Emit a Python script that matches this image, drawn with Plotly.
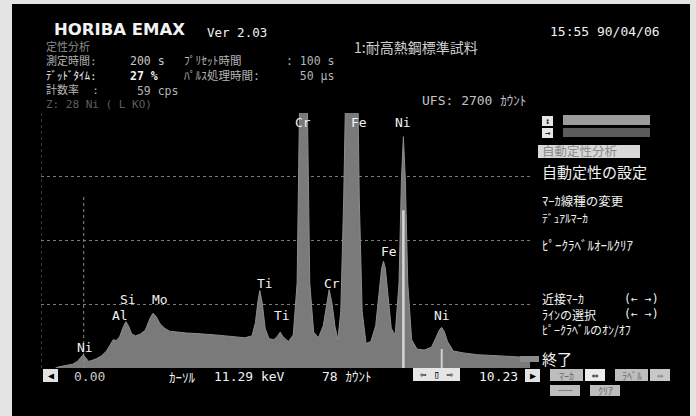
import plotly.graph_objects as go

# ---- spectrum data: energy (keV) and counts per channel ----
energy_kev = [0.30, 0.35, 0.45, 0.55, 0.65, 0.75, 0.82, 0.87, 0.92, 0.98,
              1.05, 1.15, 1.25, 1.35, 1.42, 1.49, 1.55, 1.62, 1.70, 1.75,
              1.80, 1.87, 1.95, 2.05, 2.15, 2.25, 2.31, 2.38, 2.45, 2.55,
              2.65, 2.80, 3.00, 3.20, 3.40, 3.60, 3.80, 4.00, 4.20, 4.35,
              4.42, 4.47, 4.51, 4.56, 4.62, 4.70, 4.80, 4.88, 4.93, 4.99,
              5.10, 5.20, 5.28, 5.33, 5.37, 5.41, 5.45, 5.49, 5.54, 5.62,
              5.72, 5.82, 5.88, 5.94, 6.00, 6.06, 6.12, 6.18, 6.24, 6.30,
              6.35, 6.40, 6.45, 6.50, 6.56, 6.62, 6.70, 6.80, 6.90, 6.97,
              7.02, 7.06, 7.10, 7.15, 7.22, 7.30, 7.38, 7.43, 7.47, 7.51,
              7.56, 7.64, 7.75, 7.90, 8.05, 8.15, 8.22, 8.26, 8.31, 8.38,
              8.50, 8.70, 9.00, 9.40, 9.80, 10.08]
counts = [0, 10, 20, 30, 40, 70, 110, 140, 110, 70,
          80, 100, 130, 180, 240, 300, 290, 330, 440, 490,
          450, 360, 340, 360, 400, 530, 580, 540, 470, 420,
          390, 380, 370, 365, 360, 350, 340, 330, 320, 340,
          480, 700, 820, 690, 420, 310, 300, 340, 380, 330,
          280, 350, 900, 2800, 4500, 5200, 4500, 2800, 900, 380,
          320, 450, 660, 830, 680, 440, 300, 600, 1800, 4200,
          5800, 6300, 5800, 4200, 1800, 600, 260, 280, 450, 800,
          1050, 1130, 1050, 780, 420, 350, 900, 2000, 2450, 2000,
          900, 300, 200, 190, 220, 330, 410, 430, 390, 280,
          180, 160, 140, 130, 120, 110]

# peak identification labels: element, energy (keV), label height (counts)
label_names = ["Ni", "Al", "Si", "Mo", "Ti", "Ti", "Cr", "Cr", "Fe", "Fe", "Ni", "Ni"]
label_kev = [0.90, 1.62, 1.80, 2.45, 4.62, 4.97, 5.41, 5.99, 6.55, 7.18, 7.47, 8.26]
label_counts = [220, 560, 730, 730, 900, 560, 2600, 900, 2600, 1230, 2600, 560]

full_scale = 2700          # UFS counts
grid_counts = [675, 1350, 2025, 2700]
kev_max = 10.08
marker_kev = 7.47          # active marker (Ni Ka)
marker_top = 1670
marker2_kev = 8.26

# plot-area pixel box
W, H = 696, 416
L, R, T, B = 41, 530, 113, 368


def px(x):
    return (x - L) / (R - L)


def py(y):
    return (B - y) / (B - T)


MONO = "DejaVu Sans Mono, Noto Sans CJK JP"
CJK = "Noto Sans CJK JP, DejaVu Sans Mono"
WHITE = "#f2f2f2"
GREY = "#b4b4b4"
NB = "\u00a0"

fig = go.Figure()
fig.add_trace(go.Scatter(
    x=energy_kev, y=counts, mode="lines", fill="tozeroy",
    line=dict(color="#8e8e8e", width=1), fillcolor="#7a7a7a",
    hoverinfo="skip", showlegend=False))

shapes = []
# CRT screen
shapes.append(dict(type="rect", xref="paper", yref="paper", layer="below",
                   x0=px(12), x1=px(690), y0=py(420), y1=py(4),
                   fillcolor="#000000", line=dict(width=0)))
# vertical dotted guides
shapes.append(dict(type="line", xref="x", yref="paper", x0=0, x1=0,
                   y0=0, y1=1, line=dict(color="#6a6a6a", width=1, dash="dot")))
shapes.append(dict(type="line", xref="x", yref="y", x0=0.88, x1=0.88,
                   y0=0, y1=1830, line=dict(color="#8a8a8a", width=1, dash="dot")))
# markers
shapes.append(dict(type="line", xref="x", yref="y", x0=marker_kev, x1=marker_kev,
                   y0=0, y1=marker_top, line=dict(color="#d6d6d6", width=2.5)))
shapes.append(dict(type="line", xref="x", yref="paper", x0=marker2_kev, x1=marker2_kev,
                   y0=py(380), y1=py(349), line=dict(color="#cfcfcf", width=2)))


def box(x0, x1, y0, y1, color):
    shapes.append(dict(type="rect", xref="paper", yref="paper",
                       x0=px(x0), x1=px(x1), y0=py(y1), y1=py(y0),
                       fillcolor=color, line=dict(width=0)))


# menu bars and buttons
box(542, 553, 116, 126, "#e6e6e6")
box(563, 650, 115, 125, "#9c9c9c")
box(542, 553, 128, 138, "#e6e6e6")
box(563, 650, 128, 137, "#5c5c5c")
box(538, 640, 145, 158, "#d8d8d8")
box(520, 539, 356, 362, "#8c8c8c")
box(43, 58, 369, 382, "#e2e2e2")
box(413, 460, 368, 381, "#e6e6e6")
box(525, 540, 369, 382, "#e2e2e2")
box(550, 583, 369, 381, "#bdbdbd")
box(585, 605, 369, 381, "#ececec")
box(615, 648, 369, 381, "#bdbdbd")
box(650, 670, 369, 381, "#c8c8c8")
box(550, 580, 385, 396, "#bdbdbd")
box(590, 620, 385, 396, "#bdbdbd")

ann = []


def text(x, y, s, size=13, color=WHITE, family=MONO, anchor="left", bold=False,
         align="left"):
    if bold:
        s = "<b>" + s + "</b>"
    ann.append(dict(x=px(x), y=py(y), xref="paper", yref="paper", text=s,
                    showarrow=False, xanchor=anchor, yanchor="middle", align=align,
                    font=dict(size=size, color=color, family=family)))


def col(c, s):
    return "<span style='color:%s'>%s</span>" % (c, s)


# header
text(52, 29, "HORIBA EMAX", 16.5, WHITE, "DejaVu Sans", bold=True)
text(205, 32, "Ver 2.03", 12.5)
text(548, 31, "15:55 90/04/06", 13)
text(352, 47, "1:耐高熱鋼標準試料", 14, "#cfcfcf", CJK)

# acquisition conditions block (label column, values, second column)
text(44, 75.6, "<br>".join([
    col("#8c8c8c", "定性分析"),
    col(GREY, "測定時間:"),
    col(WHITE, "ﾃﾞｯﾄﾞﾀｲﾑ:"),
    col(GREY, "計数率" + NB + NB + ":"),
    col("#5e5e5e", "Z: 28 Ni ( L KO)"),
]), 11, WHITE, MONO)
text(128, 75.5, "<br>".join([
    col("#c8c8c8", "200 s"),
    col(WHITE, "<b>27 %</b>"),
    col(GREY, NB + "59 cps"),
]), 11.5, WHITE, MONO)
text(182, 68.5, "<br>".join([
    "ﾌﾟﾘｾｯﾄ時間",
    "ﾊﾟﾙｽ処理時間:",
]), 11.5, GREY, MONO)
text(284, 68.5, "<br>".join([
    ":" + NB + "100 s",
    NB + NB + "50 µs",
]), 11.5, GREY, MONO)
text(420, 101, "UFS: 2700 ｶｳﾝﾄ", 13, "#c4c4c4")

# side menu
text(547.5, 121, "↕", 9, "#000000", anchor="center")
text(547.5, 133, "→", 9, "#000000", anchor="center")
text(540, 150.5, "自動定性分析", 12.5, "#8a8a8a", CJK)
text(540, 171, "自動定性の設定", 15, WHITE, CJK)
text(540, 200, "ﾏｰｶ線種の変更", 12.5, WHITE, CJK)
text(540, 218, "ﾃﾞｭｱﾙﾏｰｶ", 11.5, WHITE, CJK)
text(540, 245, "ﾋﾟｰｸﾗﾍﾞﾙｵｰﾙｸﾘｱ", 13, WHITE, CJK)
text(540, 314, "近接ﾏｰｶ<br>ﾗｲﾝの選択<br>ﾋﾟｰｸﾗﾍﾞﾙのｵﾝ/ｵﾌ", 12, WHITE, CJK)
text(622, 306.5, "(← →)<br>(← →)", 11.5, WHITE, MONO)
text(540, 358, "終了", 15, WHITE, CJK)

# bottom status line
text(50.5, 375.5, "◀", 10, "#000000", anchor="center")
text(72, 376, "0.00", 13, "#c8c8c8")
text(167, 376, "ｶｰｿﾙ", 13, WHITE, CJK)
text(212, 376, "11.29 keV", 13)
text(320, 376, "78 ｶｳﾝﾄ", 13)
text(436.5, 374.5, "⇦ ▯ ⇨", 11, "#000000", anchor="center")
text(477, 376, "10.23", 13)
text(532.5, 375.5, "▶", 10, "#000000", anchor="center")
text(566.5, 375, "ﾏｰｶ", 10, "#6e6e6e", CJK, anchor="center")
text(595, 375, "⇔", 11, "#000000", anchor="center")
text(631.5, 375, "ﾗﾍﾞﾙ", 10, "#6e6e6e", CJK, anchor="center")
text(660, 375, "⇔", 10, "#6e6e6e", anchor="center")
text(565, 390.5, "───", 8, "#6e6e6e", anchor="center")
text(605, 390.5, "ｸﾘｱ", 10, "#6e6e6e", CJK, anchor="center")

# peak labels in data coordinates
for name, xe, yc in zip(label_names, label_kev, label_counts):
    ann.append(dict(x=xe, y=yc, xref="x", yref="y", text=name, showarrow=False,
                    xanchor="center", yanchor="middle",
                    font=dict(size=13, color=WHITE, family=MONO)))

fig.update_layout(
    width=W, height=H,
    margin=dict(l=L, r=W - R, t=T, b=H - B, pad=0),
    paper_bgcolor="#e4e4e4", plot_bgcolor="#000000",
    xaxis=dict(range=[0, kev_max], showgrid=False, zeroline=False,
               showticklabels=False, ticks="", showline=False, fixedrange=True),
    yaxis=dict(range=[0, full_scale], tickvals=grid_counts, showgrid=True,
               gridcolor="#7a7a7a", griddash="dot", gridwidth=1,
               zeroline=False, showticklabels=False, ticks="", showline=False,
               fixedrange=True),
    shapes=shapes, annotations=ann, showlegend=False,
)

fig.write_html("out.html")
